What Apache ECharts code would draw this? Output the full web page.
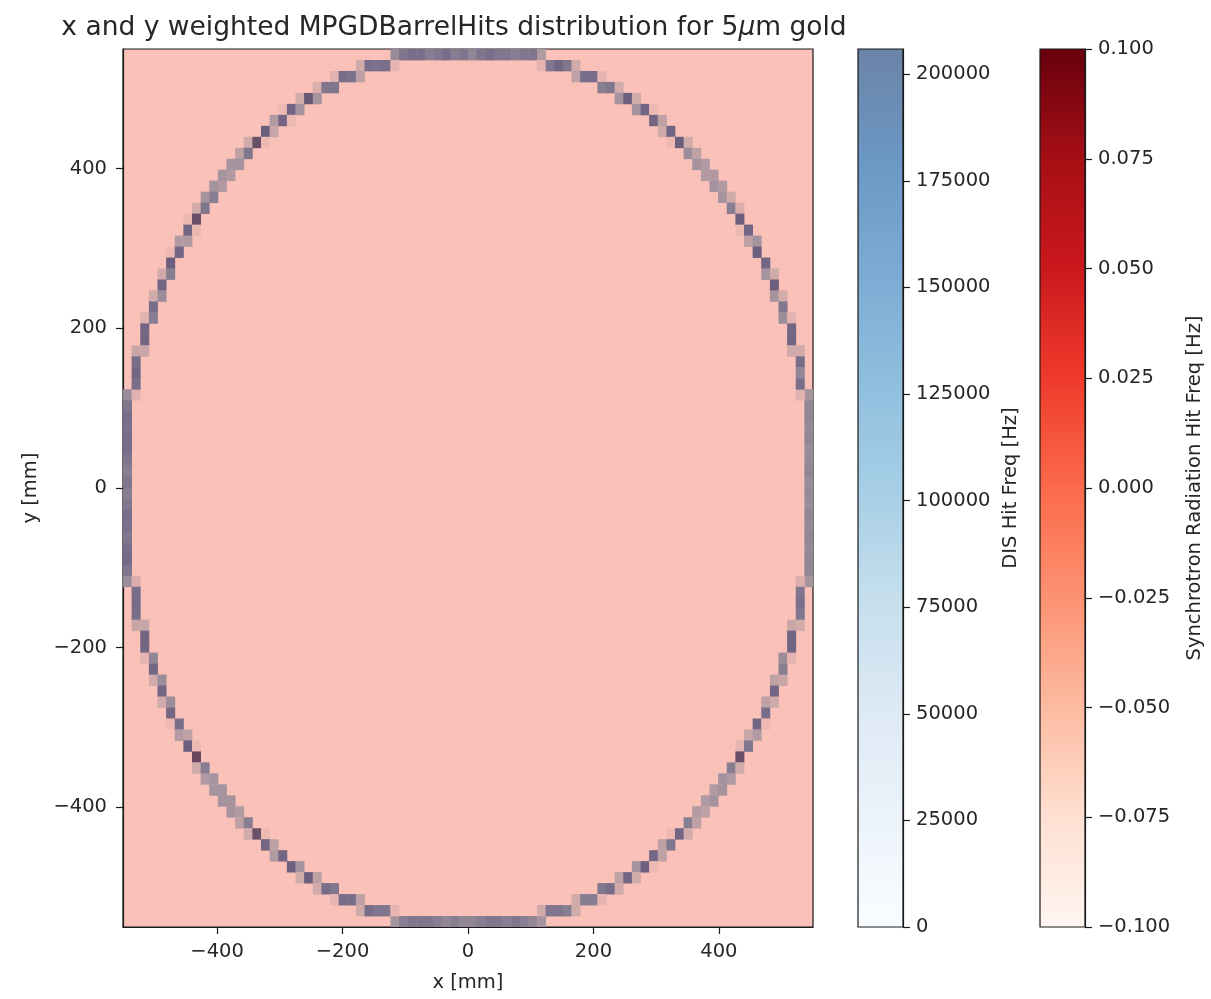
<!DOCTYPE html>
<html>
<head>
<meta charset="utf-8">
<script src="https://cdn.jsdelivr.net/npm/echarts@6/dist/echarts.min.js"></script>
<style>
  html, body { margin: 0; background: #fff; }
  #chart { width: 1211px; height: 999px; }
</style>
</head>
<body>
<div id="chart"></div>
<script>
// 80 x 80 bins over [-550, 550] mm in x and y
const BIN_MIN = -550;
const BIN_W = 13.75;

// DIS hit frequency per bin: [column from left, row from top, Hz]
const topEdge = [
    [31, 0, 113000], [32, 0, 144000], [33, 0, 154000], [34, 0, 154000], [35, 0, 134000], [36, 0, 144000],
    [37, 0, 154000], [38, 0, 134000], [39, 0, 144000], [40, 0, 124000], [41, 0, 144000], [42, 0, 154000],
    [43, 0, 144000], [44, 0, 144000], [45, 0, 134000], [46, 0, 144000], [47, 0, 144000], [48, 0, 93000]
];
const bottomEdge = [
    [31, 79, 103000], [32, 79, 134000], [33, 79, 144000], [34, 79, 144000], [35, 79, 144000], [36, 79, 134000],
    [37, 79, 124000], [38, 79, 134000], [39, 79, 124000], [40, 79, 124000], [41, 79, 134000], [42, 79, 144000],
    [43, 79, 144000], [44, 79, 134000], [45, 79, 144000], [46, 79, 134000], [47, 79, 124000], [48, 79, 103000]
];
const leftEdge = [
    [0, 31, 113000], [1, 31, 41000], [0, 32, 144000], [0, 33, 154000], [0, 34, 150000], [0, 35, 160000],
    [0, 36, 154000], [0, 37, 144000], [0, 38, 134000], [0, 39, 144000], [0, 40, 134000], [0, 41, 144000],
    [0, 42, 154000], [0, 43, 150000], [0, 44, 144000], [0, 45, 154000], [0, 46, 160000], [0, 47, 144000],
    [0, 48, 113000], [1, 48, 51000]
];
const rightEdge = [
    [79, 31, 103000], [78, 31, 41000], [79, 32, 124000], [79, 33, 124000], [79, 34, 118000], [79, 35, 124000],
    [79, 36, 113000], [79, 37, 118000], [79, 38, 124000], [79, 39, 113000], [79, 40, 118000], [79, 41, 113000],
    [79, 42, 124000], [79, 43, 118000], [79, 44, 124000], [79, 45, 118000], [79, 46, 124000], [79, 47, 124000],
    [79, 48, 103000], [78, 48, 51000]
];
const upperLeftArc = [
    [27, 1, 62000], [28, 1, 154000], [29, 1, 150000], [30, 1, 154000], [31, 1, 31000],
    [24, 2, 41000], [25, 2, 154000], [26, 2, 150000], [27, 2, 82000],
    [22, 3, 51000], [23, 3, 144000], [24, 3, 144000],
    [20, 4, 62000], [21, 4, 185000], [22, 4, 103000],
    [18, 5, 20000], [19, 5, 165000], [20, 5, 103000],
    [17, 6, 93000], [18, 6, 165000], [19, 6, 20000],
    [16, 7, 175000], [17, 7, 72000],
    [14, 8, 62000], [15, 8, 196000], [16, 8, 20000],
    [13, 9, 82000], [14, 9, 144000],
    [12, 10, 103000], [13, 10, 103000],
    [11, 11, 103000], [12, 11, 93000],
    [10, 12, 103000], [11, 12, 93000],
    [9, 13, 103000], [10, 13, 134000],
    [8, 14, 62000], [9, 14, 144000],
    [7, 15, 20000], [8, 15, 196000],
    [7, 16, 165000], [8, 16, 25000],
    [6, 17, 93000], [7, 17, 93000],
    [5, 18, 20000], [6, 18, 165000],
    [5, 19, 175000],
    [4, 20, 62000], [5, 20, 134000],
    [4, 21, 165000],
    [3, 22, 62000], [4, 22, 113000],
    [3, 23, 154000],
    [2, 24, 41000], [3, 24, 134000],
    [2, 25, 165000],
    [2, 26, 165000],
    [1, 27, 72000], [2, 27, 72000],
    [1, 28, 154000], [1, 29, 165000], [1, 30, 154000]
];
const lowerLeftArc = [
    [1, 49, 154000], [1, 50, 160000], [1, 51, 154000],
    [1, 52, 72000], [2, 52, 72000],
    [2, 53, 165000],
    [2, 54, 165000],
    [2, 55, 31000], [3, 55, 124000],
    [3, 56, 165000],
    [3, 57, 62000], [4, 57, 113000],
    [4, 58, 165000],
    [4, 59, 62000], [5, 59, 113000],
    [5, 60, 165000],
    [5, 61, 20000], [6, 61, 154000],
    [6, 62, 93000], [7, 62, 82000],
    [7, 63, 175000], [8, 63, 20000],
    [8, 64, 205900],
    [8, 65, 62000], [9, 65, 134000],
    [9, 66, 93000], [10, 66, 103000],
    [10, 67, 103000], [11, 67, 103000],
    [11, 68, 103000], [12, 68, 103000],
    [12, 69, 103000], [13, 69, 93000],
    [13, 70, 82000], [14, 70, 134000],
    [14, 71, 62000], [15, 71, 196000], [16, 71, 20000],
    [16, 72, 165000], [17, 72, 82000],
    [17, 73, 93000], [18, 73, 165000],
    [19, 74, 175000], [20, 74, 103000],
    [20, 75, 62000], [21, 75, 175000], [22, 75, 82000],
    [22, 76, 62000], [23, 76, 154000], [24, 76, 144000],
    [24, 77, 31000], [25, 77, 154000], [26, 77, 154000], [27, 77, 82000],
    [27, 78, 62000], [28, 78, 154000], [29, 78, 144000], [30, 78, 144000], [31, 78, 31000]
];
const upperRightArc = [
    [48, 1, 31000], [49, 1, 144000], [50, 1, 165000], [51, 1, 144000], [52, 1, 62000],
    [52, 2, 82000], [53, 2, 154000], [54, 2, 154000], [55, 2, 31000],
    [55, 3, 134000], [56, 3, 144000], [57, 3, 62000],
    [57, 4, 103000], [58, 4, 175000], [59, 4, 62000],
    [59, 5, 103000], [60, 5, 165000], [61, 5, 20000],
    [61, 6, 165000], [62, 6, 82000],
    [62, 7, 62000], [63, 7, 165000],
    [63, 8, 20000], [64, 8, 175000], [65, 8, 62000],
    [65, 9, 113000], [66, 9, 82000],
    [66, 10, 103000], [67, 10, 93000],
    [67, 11, 93000], [68, 11, 93000],
    [68, 12, 103000], [69, 12, 93000],
    [69, 13, 103000], [70, 13, 62000],
    [70, 14, 134000], [71, 14, 51000],
    [71, 15, 175000],
    [71, 16, 20000], [72, 16, 165000],
    [72, 17, 82000], [73, 17, 103000],
    [73, 18, 175000],
    [74, 19, 165000],
    [74, 20, 103000], [75, 20, 62000],
    [75, 21, 175000],
    [75, 22, 103000], [76, 22, 62000],
    [76, 23, 144000],
    [76, 24, 113000], [77, 24, 41000],
    [77, 25, 165000],
    [77, 26, 165000],
    [77, 27, 62000], [78, 27, 62000],
    [78, 28, 154000], [78, 29, 124000], [78, 30, 154000]
];
const lowerRightArc = [
    [78, 49, 144000], [78, 50, 150000], [78, 51, 144000],
    [77, 52, 72000], [78, 52, 62000],
    [77, 53, 165000],
    [77, 54, 165000],
    [76, 55, 113000], [77, 55, 31000],
    [76, 56, 134000],
    [75, 57, 82000], [76, 57, 72000],
    [75, 58, 165000],
    [74, 59, 82000], [75, 59, 62000],
    [74, 60, 154000],
    [73, 61, 165000], [74, 61, 20000],
    [72, 62, 72000], [73, 62, 93000],
    [71, 63, 31000], [72, 63, 144000],
    [71, 64, 196000],
    [70, 65, 134000], [71, 65, 62000],
    [69, 66, 103000], [70, 66, 93000],
    [68, 67, 93000], [69, 67, 103000],
    [67, 68, 93000], [68, 68, 103000],
    [66, 69, 93000], [67, 69, 82000],
    [65, 70, 134000], [66, 70, 82000],
    [63, 71, 20000], [64, 71, 165000], [65, 71, 62000],
    [62, 72, 82000], [63, 72, 144000],
    [61, 73, 165000], [62, 73, 82000],
    [59, 74, 103000], [60, 74, 175000], [61, 74, 20000],
    [57, 75, 82000], [58, 75, 165000], [59, 75, 62000],
    [55, 76, 144000], [56, 76, 154000], [57, 76, 62000],
    [52, 77, 62000], [53, 77, 134000], [54, 77, 134000], [55, 77, 31000],
    [48, 78, 62000], [49, 78, 144000], [50, 78, 144000], [51, 78, 134000], [52, 78, 62000]
];

// tick labels
const xTicks = [-400, -200, 0, 200, 400];
const yTicks = [-400, -200, 0, 200, 400];
const disTicks = [0, 25000, 50000, 75000, 100000, 125000, 150000, 175000, 200000];
const srTicks = [-0.1, -0.075, -0.05, -0.025, 0, 0.025, 0.05, 0.075, 0.1];
const disMax = 205900;

// matplotlib colormaps
const blues = [[247, 251, 255], [222, 235, 247], [198, 219, 239], [158, 202, 225], [107, 174, 214],
    [66, 146, 198], [33, 113, 181], [8, 81, 156], [8, 48, 107]];
const reds = [[255, 245, 240], [254, 224, 210], [252, 187, 161], [252, 146, 114], [251, 106, 74],
    [239, 59, 44], [203, 24, 29], [165, 15, 21], [103, 0, 13]];

// DIS layer is drawn with alpha 0.6 over the (all zero) synchrotron layer
function blend(c, under, a) {
    let r = c.map((v, k) => Math.round(a * v + (1 - a) * under[k]));
    return `rgb(${r[0]},${r[1]},${r[2]})`;
}
const srZero = reds[4];
const disOnSr = blues.map(c => blend(c, srZero, 0.6));
const disOnWhite = blues.map(c => blend(c, [255, 255, 255], 0.6));
const emptyBin = blend(blues[0], srZero, 0.6);

const cells = [].concat(topEdge, bottomEdge, leftEdge, rightEdge,
    upperLeftArc, lowerLeftArc, upperRightArc, lowerRightArc)
    .map(c => [BIN_MIN + BIN_W * (c[0] + 0.5), -BIN_MIN - BIN_W * (c[1] + 0.5), c[2]]);

function minus(s) {
    return String(s).replace('-', '\u2212');
}
function stops(list, reverse) {
    let l = reverse ? list.slice().reverse() : list;
    return l.map((c, i) => ({ offset: i / (l.length - 1), color: c }));
}

const font = 'DejaVu Sans';
const txt = { fontFamily: font, fontSize: 19.5, color: '#262626' };
const frame = '#1a1a1a';
const line = { color: frame, width: 1.2 };

let chart = echarts.init(document.getElementById('chart'), null, { renderer: 'canvas' });
let option = {
    animation: false,
    backgroundColor: '#fff',
    title: {
        text: '{n|x and y weighted MPGDBarrelHits distribution for 5}{i|\u03bc}{n|m gold}',
        left: 454,
        top: 15,
        padding: 0,
        textAlign: 'center',
        textStyle: {
            rich: {
                n: { fontFamily: font, fontSize: 26.5, fontWeight: 'normal', color: '#262626' },
                i: { fontFamily: font, fontSize: 26.5, fontWeight: 'normal', fontStyle: 'italic', color: '#262626' },
            },
        },
    },
    grid: [
        { left: 123, top: 49, width: 690, height: 878, show: true, backgroundColor: emptyBin, borderColor: frame, borderWidth: 1.2 },
        {
            left: 858, top: 49, width: 45, height: 878, show: true, borderColor: frame, borderWidth: 1.2,
            backgroundColor: new echarts.graphic.LinearGradient(0, 0, 0, 1, stops(disOnWhite, true)),
        },
        {
            left: 1040, top: 49, width: 45, height: 878, show: true, borderColor: frame, borderWidth: 1.2,
            backgroundColor: new echarts.graphic.LinearGradient(0, 0, 0, 1, stops(reds.map(c => blend(c, c, 1)), true)),
        },
    ],
    xAxis: [
        {
            gridIndex: 0, type: 'value', min: -550, max: 550,
            name: 'x [mm]', nameLocation: 'middle', nameGap: 46, nameTextStyle: txt,
            axisLine: { show: true, onZero: false, lineStyle: line },
            axisTick: { show: true, length: 7, customValues: xTicks, lineStyle: line },
            axisLabel: Object.assign({ margin: 15, customValues: xTicks, formatter: minus }, txt),
            splitLine: { show: false },
        },
        { gridIndex: 1, type: 'value', min: 0, max: 1, show: false },
        { gridIndex: 2, type: 'value', min: 0, max: 1, show: false },
    ],
    yAxis: [
        {
            gridIndex: 0, type: 'value', min: -550, max: 550,
            name: 'y [mm]', nameLocation: 'middle', nameGap: 82, nameRotate: 90, nameTextStyle: txt,
            axisLine: { show: true, onZero: false, lineStyle: line },
            axisTick: { show: true, length: 7, customValues: yTicks, lineStyle: line },
            axisLabel: Object.assign({ margin: 16, customValues: yTicks, formatter: minus }, txt),
            splitLine: { show: false },
        },
        {
            gridIndex: 1, type: 'value', min: 0, max: disMax, position: 'right',
            name: 'DIS Hit Freq [Hz]', nameLocation: 'middle', nameGap: 98, nameRotate: 90, nameTextStyle: txt,
            axisLine: { show: true, onZero: false, lineStyle: line },
            axisTick: { show: true, length: 7, customValues: disTicks, lineStyle: line },
            axisLabel: Object.assign({ margin: 13, customValues: disTicks, formatter: v => String(v) }, txt),
            splitLine: { show: false },
        },
        {
            gridIndex: 2, type: 'value', min: -0.1, max: 0.1, position: 'right',
            name: 'Synchrotron Radiation Hit Freq [Hz]', nameLocation: 'middle', nameGap: 100, nameRotate: 90, nameTextStyle: txt,
            axisLine: { show: true, onZero: false, lineStyle: line },
            axisTick: { show: true, length: 7, customValues: srTicks, lineStyle: line },
            axisLabel: Object.assign({ margin: 13, customValues: srTicks, formatter: v => minus(v.toFixed(3)) }, txt),
            splitLine: { show: false },
        },
    ],
    visualMap: [{
        type: 'continuous', show: false, seriesIndex: 0, dimension: 2,
        min: 0, max: disMax, inRange: { color: disOnSr },
    }],
    series: [{
        type: 'custom',
        name: 'DIS hits',
        xAxisIndex: 0, yAxisIndex: 0,
        clip: true,
        data: cells,
        renderItem: function (params, api) {
            const x = api.value(0), y = api.value(1);
            const p0 = api.coord([x - BIN_W / 2, y + BIN_W / 2]);
            const p1 = api.coord([x + BIN_W / 2, y - BIN_W / 2]);
            return {
                type: 'rect',
                shape: { x: p0[0], y: p0[1], width: p1[0] - p0[0] + 0.4, height: p1[1] - p0[1] + 0.4 },
                style: { fill: api.visual('color') },
            };
        },
    }],
};
chart.setOption(option);
</script>
</body>
</html>
